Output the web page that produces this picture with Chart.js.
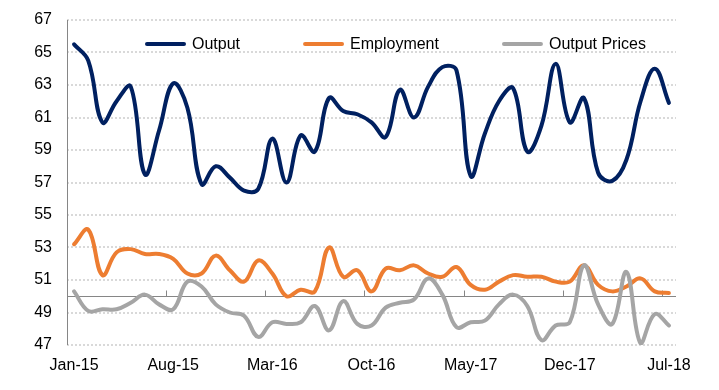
<!DOCTYPE html>
<html>
<head>
<meta charset="utf-8">
<script src="https://cdn.jsdelivr.net/npm/chart.js@4/dist/chart.umd.min.js"></script>
<style>
  html, body { margin: 0; padding: 0; background: #fff; }
  .wrap { width: 719px; height: 390px; position: relative; }
</style>
</head>
<body>
<div class="wrap"><canvas class="pmi-chart"></canvas></div>
<script>
const months = [
  "Jan-15", "Feb-15", "Mar-15", "Apr-15", "May-15", "Jun-15", "Jul-15",
  "Aug-15", "Sep-15", "Oct-15", "Nov-15", "Dec-15", "Jan-16", "Feb-16",
  "Mar-16", "Apr-16", "May-16", "Jun-16", "Jul-16", "Aug-16", "Sep-16",
  "Oct-16", "Nov-16", "Dec-16", "Jan-17", "Feb-17", "Mar-17", "Apr-17",
  "May-17", "Jun-17", "Jul-17", "Aug-17", "Sep-17", "Oct-17", "Nov-17",
  "Dec-17", "Jan-18", "Feb-18", "Mar-18", "Apr-18", "May-18", "Jun-18",
  "Jul-18",
];

const output = [
  65.5, 64.5, 60.7, 62.0, 62.9, 57.5, 60.2, 63.1, 61.6, 56.9, 58.0, 57.3,
  56.5, 56.6, 59.7, 57.0, 59.9, 58.9, 62.2, 61.4, 61.2, 60.7, 59.8, 62.7,
  61.0, 62.9, 64.1, 63.9, 57.4, 60.0, 62.0, 62.8, 58.9, 60.5, 64.3, 60.7,
  62.2, 57.6, 57.1, 58.4, 62.0, 64.0, 61.9,
];

const employment = [
  53.2, 54.1, 51.3, 52.7, 52.9, 52.6, 52.6, 52.3, 51.4, 51.4, 52.5, 51.6,
  50.9, 52.2, 51.4, 50.0, 50.4, 50.3, 53.0, 51.2, 51.6, 50.3, 51.7, 51.6,
  51.9, 51.4, 51.2, 51.8, 50.7, 50.4, 50.9, 51.3, 51.2, 51.2, 50.9, 50.9,
  51.9, 50.7, 50.3, 50.6, 51.1, 50.3, 50.2,
];

const outputPrices = [
  50.3, 49.1, 49.2, 49.2, 49.6, 50.1, 49.5, 49.2, 50.9, 50.6, 49.5, 49.0,
  48.8, 47.5, 48.4, 48.3, 48.4, 49.4, 47.9, 49.7, 48.3, 48.2, 49.3, 49.6,
  49.8, 51.1, 50.1, 48.1, 48.4, 48.5, 49.5, 50.1, 49.4, 47.3, 48.2, 48.4,
  51.9, 49.5, 48.3, 51.5, 47.1, 48.9, 48.2,
];

const yMin = 47;
const yMax = 67;
const yStep = 2;
const axisCross = 50;
const labelEvery = 7;

const ctx = document.querySelector(".pmi-chart");

Chart.defaults.font.family = "'Liberation Sans', Arial, sans-serif";
Chart.defaults.font.size = 16;
Chart.defaults.color = "#000";

// horizontal axis line at 50 with small tick marks every 7 months,
// plus the solid left axis line
const crossLine = {
  id: "crossLine",
  beforeDatasetsDraw(chart) {
    const { ctx, chartArea, scales } = chart;
    const x = scales.x;
    const py = Math.round(scales.y.getPixelForValue(axisCross)) + 0.5;
    const step = x.getPixelForValue(1) - x.getPixelForValue(0);
    const lx = Math.round(chartArea.left) + 0.5;
    ctx.save();
    ctx.strokeStyle = "#868686";
    ctx.lineWidth = 1;
    ctx.beginPath();
    ctx.moveTo(lx, chartArea.top);
    ctx.lineTo(lx, chartArea.bottom);
    ctx.moveTo(chartArea.left, py);
    ctx.lineTo(chartArea.right, py);
    for (let i = labelEvery; i < months.length; i += labelEvery) {
      const px = Math.round(x.getPixelForValue(i) - step / 2) + 0.5;
      ctx.moveTo(px, py);
      ctx.lineTo(px, py - 6);
    }
    ctx.stroke();
    ctx.restore();
  },
};

// legend sits inside the plot area, like the original
const innerLegend = {
  id: "innerLegend",
  afterDraw(chart) {
    const { ctx, chartArea } = chart;
    let lx = chartArea.left + 78;
    const ly = chartArea.top + 24;
    ctx.save();
    ctx.font = "16px 'Liberation Sans', Arial, sans-serif";
    ctx.textBaseline = "middle";
    ctx.fillStyle = "#000";
    chart.data.datasets.forEach((ds) => {
      ctx.strokeStyle = ds.borderColor;
      ctx.lineWidth = 4;
      ctx.lineCap = "round";
      ctx.beginPath();
      ctx.moveTo(lx + 2, ly);
      ctx.lineTo(lx + 39, ly);
      ctx.stroke();
      ctx.fillText(ds.label, lx + 47, ly + 1);
      lx += 47 + ctx.measureText(ds.label).width + 63;
    });
    ctx.restore();
  },
};

new Chart(ctx, {
  type: "line",
  data: {
    labels: months,
    datasets: [
      {
        label: "Output",
        data: output,
        borderColor: "#002060",
        order: 3,
      },
      {
        label: "Employment",
        data: employment,
        borderColor: "#ED7D31",
        order: 2,
      },
      {
        label: "Output Prices",
        data: outputPrices,
        borderColor: "#A5A5A5",
        order: 1,
      },
    ],
  },
  options: {
    responsive: true,
    maintainAspectRatio: false,
    animation: false,
    elements: {
      line: {
        borderWidth: 4,
        tension: 0.4,
        borderCapStyle: "round",
        borderJoinStyle: "round",
        fill: false,
      },
      point: { radius: 0, hoverRadius: 0 },
    },
    layout: {
      padding: { top: 20, right: 43, bottom: 0, left: 0 },
    },
    scales: {
      x: {
        offset: true,
        afterFit: (s) => { s.height = 45; },
        border: { display: false },
        grid: { display: false, drawTicks: false },
        ticks: {
          autoSkip: false,
          maxRotation: 0,
          padding: 11,
          callback: function (val, i) {
            return i % labelEvery === 0 ? this.getLabelForValue(val) : "";
          },
        },
      },
      y: {
        min: yMin,
        max: yMax,
        afterFit: (s) => {
          s.width = 67;
          // tick padding would otherwise push the plot down
          s.paddingTop = 8;
          s.paddingBottom = 8;
        },
        border: { display: false, dash: [2, 2] },
        grid: {
          drawTicks: false,
          color: "#d9d9d9",
          lineWidth: 2,
        },
        ticks: {
          stepSize: yStep,
          padding: 15,
        },
      },
    },
    plugins: {
      legend: { display: false },
      tooltip: { enabled: false },
    },
  },
  plugins: [crossLine, innerLegend],
});
</script>
</body>
</html>
